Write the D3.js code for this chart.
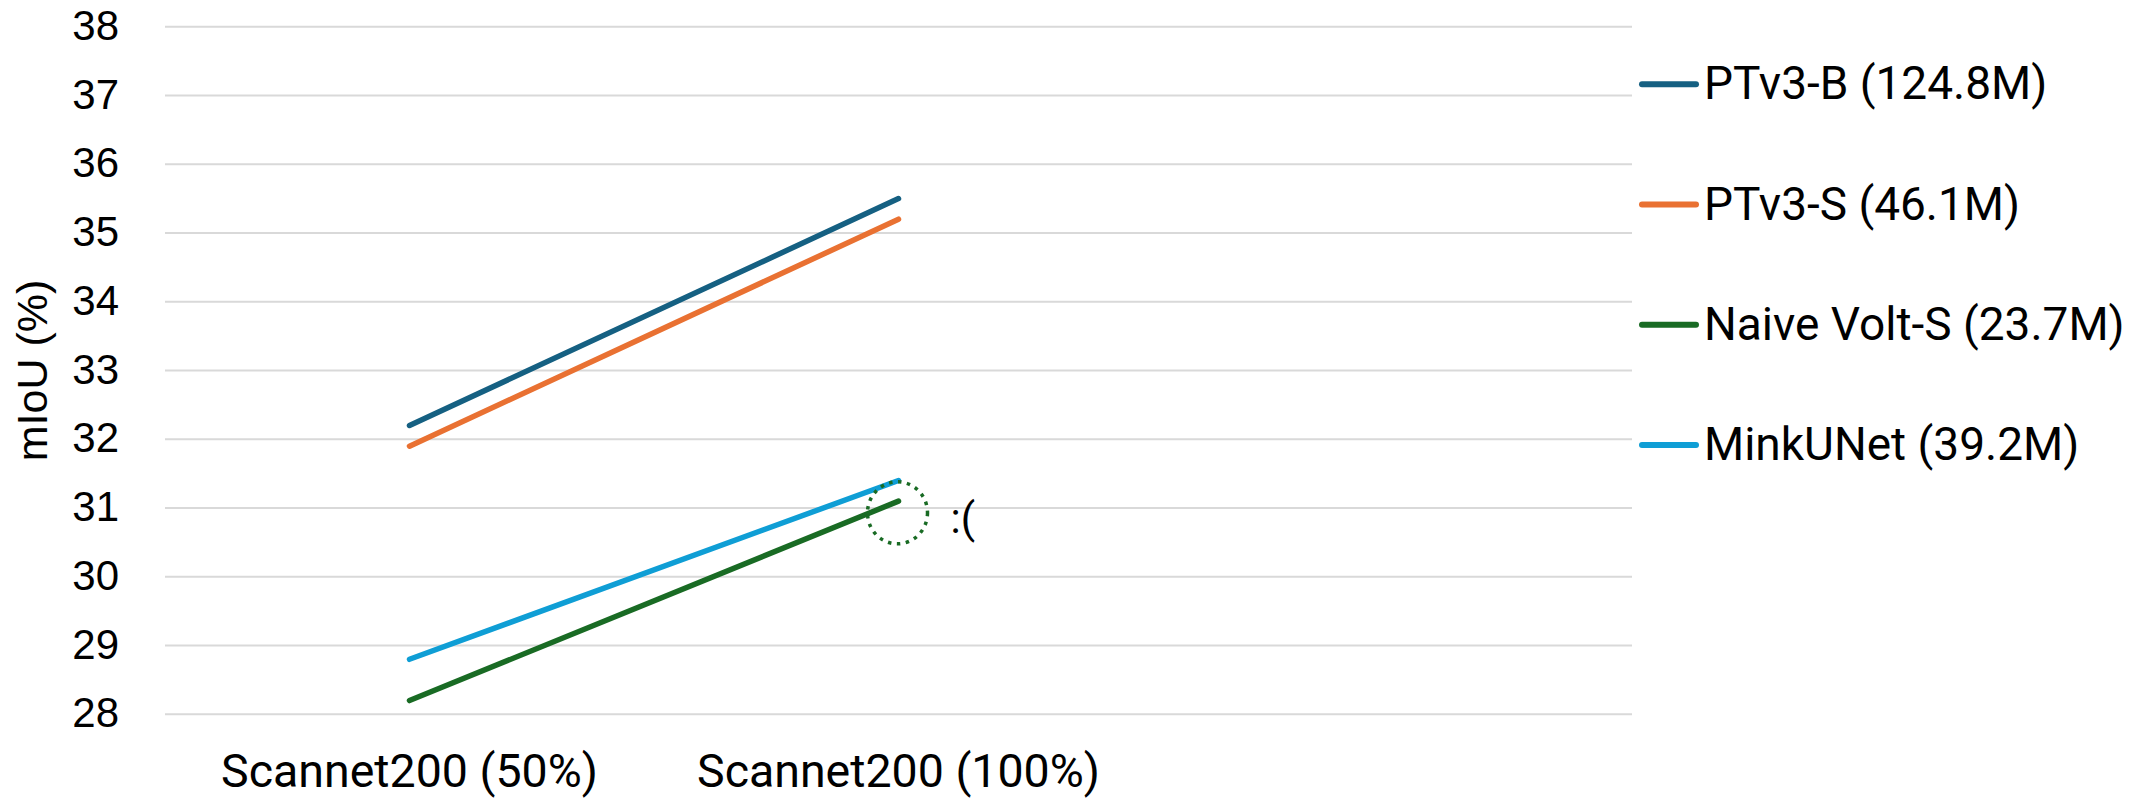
<!DOCTYPE html>
<html>
<head>
<meta charset="utf-8">
<script src="https://cdn.jsdelivr.net/npm/d3@7"></script>
<style>
  html, body { margin: 0; padding: 0; background: #ffffff; }
  svg { display: block; }
</style>
</head>
<body>
<svg id="chart" width="2146" height="799"></svg>
<script>
// ---- data ----
const categories = ["Scannet200 (50%)", "Scannet200 (100%)"];
const seriesNames = ["PTv3-B (124.8M)", "PTv3-S (46.1M)", "Naive Volt-S (23.7M)", "MinkUNet (39.2M)"];
const ptv3B = [32.2, 35.5];
const ptv3S = [31.9, 35.2];
const naiveVoltS = [28.2, 31.1];
const minkUNet = [28.8, 31.4];
const yTicks = [28, 29, 30, 31, 32, 33, 34, 35, 36, 37, 38];
const annotationValue = 30.93; // circled point region near Naive Volt-S end
const annotationText = ":(";
const yTitle = "mIoU (%)";

// ---- layout / style ----
const colors = ["#156082", "#E97132", "#196B24", "#0F9ED5"];
const seriesValues = [ptv3B, ptv3S, naiveVoltS, minkUNet];
const plotLeft = 165, plotRight = 1632, plotTop = 26.7, plotBottom = 714.3;
const slots = 3; // the category axis has room for three slots, two are used

const svg = d3.select("#chart");

const x = d3.scaleBand()
  .domain(categories)
  .range([plotLeft, plotLeft + (plotRight - plotLeft) * categories.length / slots])
  .paddingInner(0).paddingOuter(0);
const xc = c => x(c) + x.bandwidth() / 2;

const y = d3.scaleLinear().domain([28, 38]).range([plotBottom, plotTop]);

// gridlines
svg.append("g")
  .selectAll("line")
  .data(yTicks)
  .join("line")
  .attr("x1", plotLeft).attr("x2", plotRight)
  .attr("y1", d => y(d)).attr("y2", d => y(d))
  .attr("stroke", "#d9d9d9").attr("stroke-width", 2);

// y axis labels
const yAxis = d3.axisLeft(y).tickValues(yTicks).tickSize(0).tickPadding(0).tickFormat(d3.format("d"));
const yg = svg.append("g").attr("transform", `translate(119,0)`).call(yAxis);
yg.select(".domain").remove();
yg.selectAll("text")
  .attr("font-family", "'Liberation Sans', Arial, sans-serif")
  .attr("font-size", 42)
  .attr("fill", "#000")
  .attr("dy", "0.3em");

// x axis labels
const xAxis = d3.axisBottom(x).tickSize(0).tickPadding(0);
const xg = svg.append("g").attr("transform", `translate(0,${plotBottom})`).call(xAxis);
xg.select(".domain").remove();
xg.selectAll("text")
  .attr("font-family", "Roboto, 'Liberation Sans', sans-serif")
  .attr("font-size", 46.5)
  .attr("fill", "#000")
  .attr("y", 73)
  .attr("dy", 0);

// y title
svg.append("text")
  .attr("transform", `translate(47,${(plotTop + plotBottom) / 2}) rotate(-90)`)
  .attr("text-anchor", "middle")
  .attr("font-family", "'Liberation Sans', Arial, sans-serif")
  .attr("font-size", 43)
  .attr("fill", "#000")
  .text(yTitle);

// series lines
const line = d3.line().x((d, i) => xc(categories[i])).y(d => y(d));
svg.append("g")
  .selectAll("path")
  .data(seriesValues)
  .join("path")
  .attr("d", d => line(d))
  .attr("fill", "none")
  .attr("stroke", (d, i) => colors[i])
  .attr("stroke-width", 5.5)
  .attr("stroke-linecap", "round")
  .attr("stroke-linejoin", "round");

// annotation: dotted circle + text
const ax = xc(categories[1]), ay = y(annotationValue);
svg.append("ellipse")
  .attr("cx", ax - 1).attr("cy", ay)
  .attr("rx", 30).attr("ry", 31)
  .attr("fill", "none")
  .attr("stroke", colors[2])
  .attr("stroke-width", 3.5)
  .attr("stroke-dasharray", "3.5 5.5");
svg.append("text")
  .attr("x", ax + 52).attr("y", ay + 20)
  .attr("font-family", "Roboto, 'Liberation Sans', sans-serif")
  .attr("font-size", 42)
  .attr("fill", "#000")
  .text(annotationText);

// legend
const legend = svg.append("g").attr("transform", "translate(1642,84.3)");
const rows = legend.selectAll("g")
  .data(seriesNames)
  .join("g")
  .attr("transform", (d, i) => `translate(0,${i * 120.2})`);
rows.append("line")
  .attr("x1", 0).attr("x2", 54).attr("y1", 0).attr("y2", 0)
  .attr("stroke", (d, i) => colors[i])
  .attr("stroke-width", 6)
  .attr("stroke-linecap", "round");
rows.append("text")
  .attr("x", 62).attr("y", 15)
  .attr("font-family", "Roboto, 'Liberation Sans', sans-serif")
  .attr("font-size", 46)
  .attr("fill", "#000")
  .text(d => d);
</script>
</body>
</html>
